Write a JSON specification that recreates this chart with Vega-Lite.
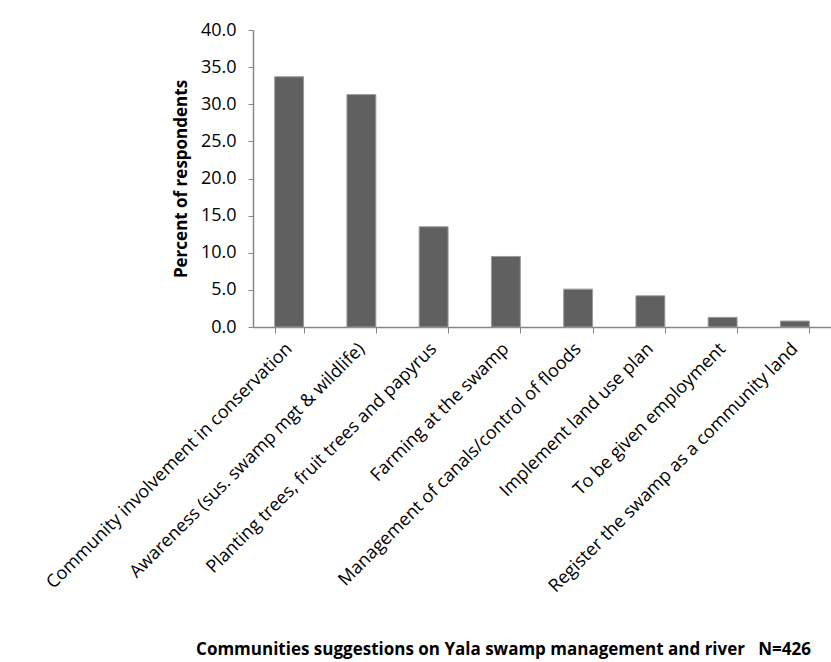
{
  "$schema": "https://vega.github.io/schema/vega-lite/v6.json",
  "autosize": "none",
  "padding": {"left": 253, "top": 30, "right": 0, "bottom": 335},
  "width": 578,
  "height": 297,
  "background": "white",
  "data": {"values": [
    {"suggestion": "Community involvement in conservation", "percent": 33.7},
    {"suggestion": "Awareness (sus. swamp mgt & wildlife)", "percent": 31.3},
    {"suggestion": "Planting trees, fruit trees and papyrus", "percent": 13.5},
    {"suggestion": "Farming at the swamp", "percent": 9.5},
    {"suggestion": "Management of canals/control of floods", "percent": 5.1},
    {"suggestion": "Implement land use plan", "percent": 4.2},
    {"suggestion": "To be given employment", "percent": 1.3},
    {"suggestion": "Register the swamp as a community land", "percent": 0.8}
  ]},
  "mark": {"type": "bar", "color": "#606060", "stroke": "#9a9a9a", "strokeWidth": 1},
  "encoding": {
    "x": {
      "field": "suggestion", "type": "nominal", "sort": null,
      "scale": {"paddingInner": 0.6, "paddingOuter": 0.3},
      "axis": {
        "title": "Communities suggestions on Yala swamp management and river\u00a0\u00a0\u00a0N=426",
        "titleFont": "Open Sans", "titleFontSize": 17, "titleFontWeight": "bold", "titleColor": "#000000",
        "titleX": 250, "titleY": 327, "titleAnchor": null, "titleAlign": "center", "titleBaseline": "alphabetic",
        "labelAngle": -45, "labelAlign": "right", "labelBaseline": "middle",
        "labelFont": "Open Sans", "labelFontSize": 18, "labelColor": "#000000", "labelPadding": 13,
        "labelLimit": 500, "labelOverlap": false,
        "tickBand": "extent", "tickSize": 6, "tickColor": "#868686", "domainColor": "#868686", "domainWidth": 1.5
      }
    },
    "y": {
      "field": "percent", "type": "quantitative",
      "scale": {"domain": [0, 40], "nice": false},
      "axis": {
        "title": "Percent of respondents", "values": [0, 5, 10, 15, 20, 25, 30, 35, 40], "format": ".1f",
        "titleFont": "Open Sans", "titleFontSize": 17, "titleFontWeight": "bold", "titleColor": "#000000", "titlePadding": 10,
        "labelFont": "Open Sans", "labelFontSize": 18, "labelColor": "#000000", "labelPadding": 12,
        "grid": false, "tickSize": 5, "tickColor": "#868686", "domainColor": "#868686", "domainWidth": 1.5
      }
    }
  },
  "config": {"view": {"stroke": null}}
}
